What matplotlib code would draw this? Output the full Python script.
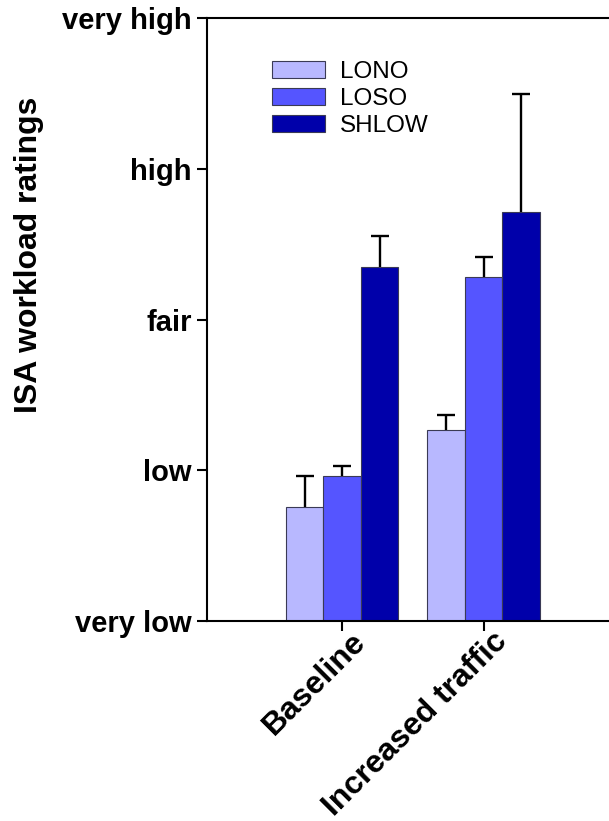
import numpy as np
import matplotlib
matplotlib.use("Agg")
import matplotlib.pyplot as plt
import matplotlib.transforms as mtransforms

plt.rcParams['font.family'] = ['Liberation Sans', 'DejaVu Sans']

# datos (escala 1 = very low ... 5 = very high)
conditions = ['Baseline', 'Increased traffic']
series = ['LONO', 'LOSO', 'SHLOW']
means = {
    'LONO': [1.755, 2.264],
    'LOSO': [1.963, 3.282],
    'SHLOW': [3.346, 3.714],
}
errs = {
    'LONO': [0.21, 0.10],
    'LOSO': [0.062, 0.13],
    'SHLOW': [0.21, 0.78],
}
colors = ['#B8B8FF', '#5555FF', '#0000AA']
ytick_labels = ['very low', 'low', 'fair', 'high', 'very high']

fig = plt.figure(figsize=(6.09, 8.21), dpi=100)
ax = fig.add_axes([207/609, 1 - 621/821, 1 - 207/609 + 0.01, (621 - 18)/821])

x = np.arange(len(conditions))
w = 0.265
for i, s in enumerate(series):
    pos = x + (i - 1) * w
    ax.bar(pos, means[s], w, bottom=0, color=colors[i], edgecolor='#3a3a55',
           linewidth=0.8, label=s, zorder=2)
    # solo la mitad superior de la barra de error
    eb = ax.errorbar(pos, means[s], yerr=[np.zeros(len(x)), errs[s]], fmt='none',
                     ecolor='black', elinewidth=1.7, capsize=6.4, capthick=1.7, zorder=3)
    eb[1][0].set_visible(False)

ax.set_ylim(1, 5)
ax.set_xlim(-0.955, 1.93)
ax.set_yticks([1, 2, 3, 4, 5])
ax.set_yticklabels(ytick_labels, fontsize=21, fontweight='bold')
ax.set_xticks(x)
ax.set_xticklabels([])
# etiquetas del eje x giradas, algo desplazadas a la derecha como en el original
offset = mtransforms.ScaledTranslation(19/100, -16/100, fig.dpi_scale_trans)
for xi, lab in zip(x, conditions):
    ax.text(xi, 0, lab, transform=ax.get_xaxis_transform() + offset,
            fontsize=23, fontweight='bold', rotation=45, ha='right', va='center',
            rotation_mode='anchor')

fig.text(29/609, 1 - 255/821, 'ISA workload ratings', rotation=90, ha='center',
         va='center', fontsize=23, fontweight='bold')

for sp in ['left', 'top', 'bottom']:
    ax.spines[sp].set_linewidth(1.5)
ax.spines['right'].set_visible(False)
ax.tick_params(axis='both', direction='out', length=7, width=1.5)
ax.tick_params(axis='y', pad=4)

ax.legend(loc='upper left', bbox_to_anchor=(272/609, 1 - 61/821),
          bbox_transform=fig.transFigure, frameon=False, fontsize=17.5,
          handlelength=2.2, handleheight=0.72, handletextpad=0.6,
          labelspacing=0.2, borderpad=0, borderaxespad=0)

fig.savefig('out.png', dpi=100)
